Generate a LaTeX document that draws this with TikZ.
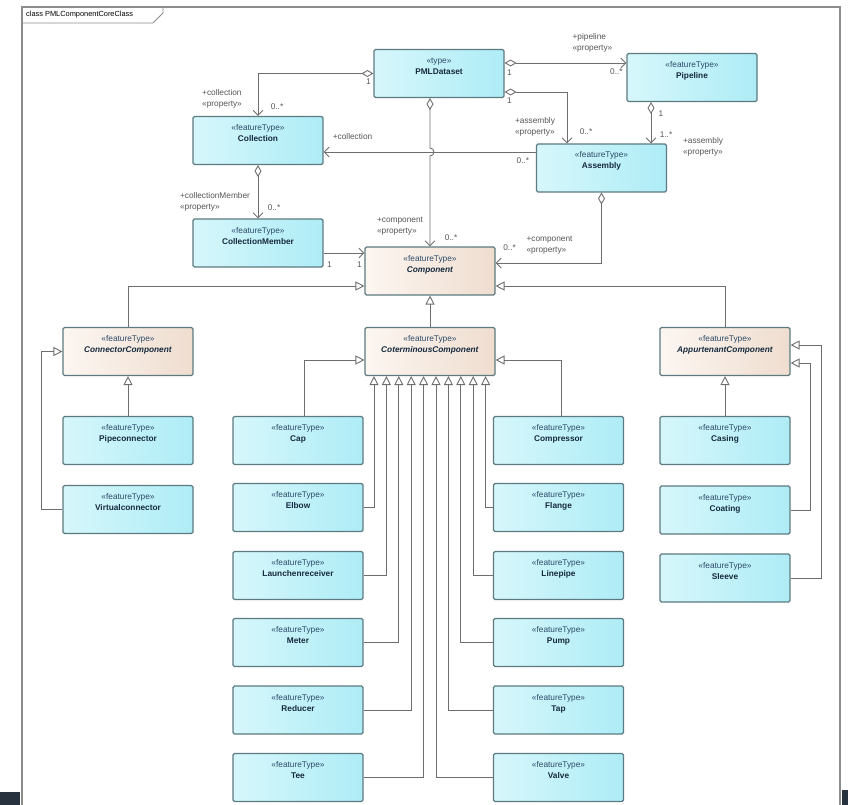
\documentclass[tikz,border=0pt]{standalone}
\usepackage{fontspec}
\setmainfont{Liberation Sans}
\usetikzlibrary{arrows.meta}

\definecolor{bluel}{RGB}{214,247,251}
\definecolor{bluer}{RGB}{174,236,246}
\definecolor{peachl}{RGB}{252,246,241}
\definecolor{peachr}{RGB}{239,221,207}
\definecolor{boxline}{RGB}{92,122,128}
\definecolor{linecol}{RGB}{110,110,110}
\definecolor{stereocol}{RGB}{45,75,105}
\definecolor{namecol}{RGB}{22,42,62}
\definecolor{lblcol}{RGB}{85,85,85}
\definecolor{framecol}{RGB}{140,140,140}
\definecolor{darkbar}{RGB}{40,50,62}

% class box texts: stereotype on top, name below
\newcommand{\cls}[2]{\parbox[c][48pt][t]{128pt}{\centering\rule{0pt}{14pt}{\color{stereocol}«#1»}\\\textbf{#2}}}
\newcommand{\acls}[2]{\parbox[c][48pt][t]{128pt}{\centering\rule{0pt}{14pt}{\color{stereocol}«#1»}\\\textbf{\itshape #2}}}

\tikzset{
  blueclass/.style={draw=boxline,line width=1.1pt,rounded corners=1.5pt,left color=bluel,right color=bluer,
    inner sep=0pt,minimum width=130pt,minimum height=48pt,text=namecol,font=\fontsize{8.3}{11}\selectfont},
  peachclass/.style={blueclass,left color=peachl,right color=peachr},
  assoc/.style={draw=linecol,line width=0.9pt,-{Straight Barb[length=5pt,width=10pt]}},
  aggr/.style={assoc,{Diamond[open,length=12pt,width=7pt]}-{Straight Barb[length=5pt,width=10pt]}},
  gen/.style={draw=linecol,line width=0.9pt,-{Triangle[open,length=9pt,width=9pt]}},
  lbl/.style={font=\fontsize{8.3}{11}\selectfont,text=lblcol,inner sep=0pt,align=left}
}

\begin{document}
\begin{tikzpicture}[x=1pt,y=-1pt]
\useasboundingbox (0,0) rectangle (848,805);

% frame
\draw[framecol,line width=1.2pt] (22,812) -- (22,7) -- (840,7) -- (840,812);
\draw[framecol,line width=0.8pt] (22,23) -- (153,23) -- (163,13) -- (163,7);
\node[anchor=west,font=\fontsize{7.4}{9}\selectfont,inner sep=0pt] (title) at (26,15) {class PMLComponentCoreClass};
\fill[darkbar] (0,792) rectangle (20,805);
\fill[darkbar] (842,790) rectangle (848,805);

% top classes
\node[blueclass] (PMLDataset) at (439,73.5) {\cls{type}{PMLDataset}};
\node[blueclass] (Pipeline) at (692,77.5) {\cls{featureType}{Pipeline}};
\node[blueclass] (Collection) at (258,140.5) {\cls{featureType}{Collection}};
\node[blueclass] (Assembly) at (601.5,168) {\cls{featureType}{Assembly}};
\node[blueclass] (CollectionMember) at (258,243) {\cls{featureType}{CollectionMember}};
\node[peachclass] (Component) at (430,271) {\acls{featureType}{Component}};

% abstract components
\node[peachclass] (ConnectorComponent) at (128,351.5) {\acls{featureType}{ConnectorComponent}};
\node[peachclass] (CoterminousComponent) at (430,351.5) {\acls{featureType}{CoterminousComponent}};
\node[peachclass] (AppurtenantComponent) at (725,351.5) {\acls{featureType}{AppurtenantComponent}};

% concrete components
\node[blueclass] (Pipeconnector) at (128,440.5) {\cls{featureType}{Pipeconnector}};
\node[blueclass] (Virtualconnector) at (128,509.5) {\cls{featureType}{Virtualconnector}};
\node[blueclass] (Cap) at (298,440.5) {\cls{featureType}{Cap}};
\node[blueclass] (Elbow) at (298,507.5) {\cls{featureType}{Elbow}};
\node[blueclass] (Launchenreceiver) at (298,575.5) {\cls{featureType}{Launchenreceiver}};
\node[blueclass] (Meter) at (298,642.5) {\cls{featureType}{Meter}};
\node[blueclass] (Reducer) at (298,710) {\cls{featureType}{Reducer}};
\node[blueclass] (Tee) at (298,777.5) {\cls{featureType}{Tee}};
\node[blueclass] (Compressor) at (558.5,440.5) {\cls{featureType}{Compressor}};
\node[blueclass] (Flange) at (558.5,507.5) {\cls{featureType}{Flange}};
\node[blueclass] (Linepipe) at (558.5,575.5) {\cls{featureType}{Linepipe}};
\node[blueclass] (Pump) at (558.5,642.5) {\cls{featureType}{Pump}};
\node[blueclass] (Tap) at (558.5,710) {\cls{featureType}{Tap}};
\node[blueclass] (Valve) at (558.5,777.5) {\cls{featureType}{Valve}};
\node[blueclass] (Casing) at (725,440.5) {\cls{featureType}{Casing}};
\node[blueclass] (Coating) at (725,510) {\cls{featureType}{Coating}};
\node[blueclass] (Sleeve) at (725,578) {\cls{featureType}{Sleeve}};

% end points of the associations
\coordinate (pd1) at ([yshift=10.5pt]PMLDataset.east);
\coordinate (pd2) at ([yshift=-18.5pt]PMLDataset.east);
\coordinate (pl1) at (pd1 -| Pipeline.west);
\coordinate (as2) at ([xshift=-34.5pt]Assembly.north);
\coordinate (pp1) at ([xshift=-41pt]Pipeline.south);
\coordinate (pp2) at (pp1 |- Assembly.north);
\coordinate (as1) at ([yshift=16pt]Assembly.west);
\coordinate (ce1) at (as1 -| Collection.east);
\coordinate (hop) at (as1 -| Component.north);
\coordinate (cm1) at ([yshift=-10pt]CollectionMember.east);
\coordinate (cm2) at (cm1 -| Component.west);
\coordinate (cp1) at ([yshift=8pt]Component.east);

% associations
\path[aggr] (PMLDataset.west) -| (Collection.north);
\path[aggr] (pd1) -- (pl1);
\path[aggr] (pd2) -| (as2);
\path[aggr] (pp1) -- (pp2);
\path[assoc] (as1) -- (ce1);
\path[aggr] (Collection.south) -- (CollectionMember.north);
\path[aggr] (PMLDataset.south -| Component.north) -- ([yshift=4pt]hop)
  arc[start angle=90,end angle=-90,radius=4pt] -- (Component.north);
\path[assoc] (cm1) -- (cm2);
\path[aggr] (Assembly.south) |- (cp1);

% generalizations
\path[gen] (ConnectorComponent.north) |- ([yshift=-15pt]Component.west);
\path[gen] (AppurtenantComponent.north) |- ([yshift=-15pt]Component.east);
\path[gen] (CoterminousComponent.north) -- (Component.south);
\path[gen] (Pipeconnector.north) -- (ConnectorComponent.south);
\path[gen] (Virtualconnector.west) -- ++(-21pt,0) |- (ConnectorComponent.west);
\path[gen] ([xshift=6pt]Cap.north) |- ([yshift=-8.5pt]CoterminousComponent.west);
\path[gen] ([xshift=2.5pt]Compressor.north) |- ([yshift=-8.5pt]CoterminousComponent.east);
\path[gen] (Elbow.east) -| ([xshift=-56pt]CoterminousComponent.south);
\path[gen] (Launchenreceiver.east) -| ([xshift=-43.6pt]CoterminousComponent.south);
\path[gen] (Meter.east) -| ([xshift=-31.2pt]CoterminousComponent.south);
\path[gen] (Reducer.east) -| ([xshift=-18.8pt]CoterminousComponent.south);
\path[gen] (Tee.east) -| ([xshift=-6.4pt]CoterminousComponent.south);
\path[gen] (Valve.west) -| ([xshift=6pt]CoterminousComponent.south);
\path[gen] (Tap.west) -| ([xshift=18.4pt]CoterminousComponent.south);
\path[gen] (Pump.west) -| ([xshift=30.8pt]CoterminousComponent.south);
\path[gen] (Linepipe.west) -| ([xshift=43.2pt]CoterminousComponent.south);
\path[gen] (Flange.west) -| ([xshift=55.6pt]CoterminousComponent.south);
\path[gen] (Casing.north) -- (AppurtenantComponent.south);
\path[gen] (Coating.east) -- ++(20pt,0) |- ([yshift=-11.5pt]AppurtenantComponent.east);
\path[gen] (Sleeve.east) -- ++(31pt,0) |- ([yshift=6.5pt]AppurtenantComponent.east);

% roles and multiplicities
\node[lbl] (m1) at ([xshift=-5pt,yshift=-8.5pt]PMLDataset.west) {1};
\node[lbl] (r1) at ([xshift=-36pt,yshift=17pt]Collection.north) {+collection\\«property»};
\node[lbl] (m2) at ([xshift=19pt,yshift=9pt]Collection.north) {0..*};
\node[lbl] (r2) at ([xshift=-34pt,yshift=20pt]pl1) {+pipeline\\«property»};
\node[lbl] (m3) at ([xshift=5pt,yshift=-10pt]pd1) {1};
\node[lbl] (m4) at ([xshift=-10pt,yshift=-9pt]pl1) {0..*};
\node[lbl] (m5) at ([xshift=5pt,yshift=-9pt]pd2) {1};
\node[lbl] (r3) at ([xshift=-32pt,yshift=17pt]as2) {+assembly\\«property»};
\node[lbl] (m6) at ([xshift=19pt,yshift=12pt]as2) {0..*};
\node[lbl] (m7) at ([xshift=10pt,yshift=-12pt]pp1) {1};
\node[lbl] (m8) at ([xshift=15pt,yshift=9pt]pp2) {1..*};
\node[lbl] (r4) at ([xshift=36pt,yshift=-3pt]Assembly.north east) {+assembly\\«property»};
\node[lbl] (r5) at ([xshift=29pt,yshift=15pt]ce1) {+collection};
\node[lbl] (m9) at ([xshift=-13pt,yshift=-9pt]as1) {0..*};
\node[lbl] (r6) at ([xshift=-43pt,yshift=17pt]CollectionMember.north) {+collectionMember\\«property»};
\node[lbl] (m10) at ([xshift=16pt,yshift=11pt]CollectionMember.north) {0..*};
\node[lbl] (r7) at ([xshift=-30pt,yshift=20pt]Component.north) {+component\\«property»};
\node[lbl] (m11) at ([xshift=21pt,yshift=9pt]Component.north) {0..*};
\node[lbl] (m12) at ([xshift=6pt,yshift=-12pt]cm1) {1};
\node[lbl] (m13) at ([xshift=-5pt,yshift=-12pt]cm2) {1};
\node[lbl] (m14) at ([xshift=14pt,yshift=15pt]cp1) {0..*};
\node[lbl] (r8) at ([xshift=54pt,yshift=18pt]cp1) {+component\\«property»};

\end{tikzpicture}
\end{document}
